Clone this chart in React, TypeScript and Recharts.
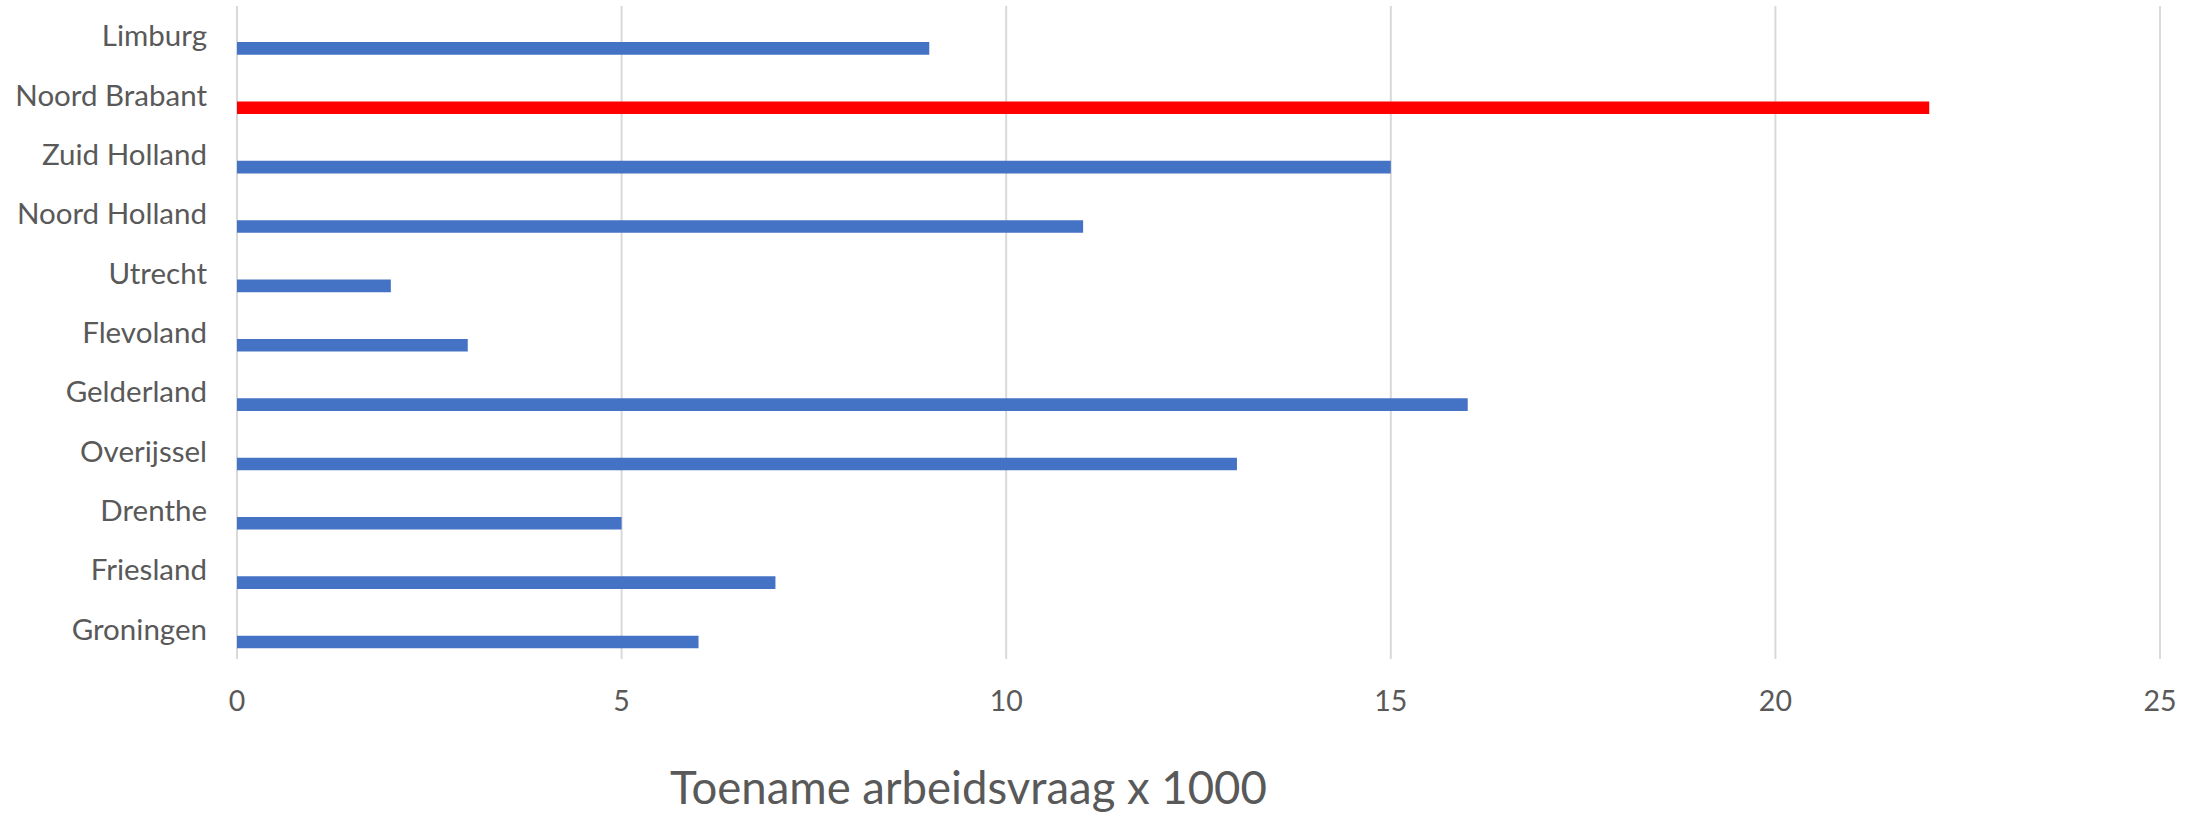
import React from 'react';
import { BarChart, Bar, XAxis, YAxis, CartesianGrid, Cell, Label } from 'recharts';

const PROVINCES = [
    'Limburg',
    'Noord Brabant',
    'Zuid Holland',
    'Noord Holland',
    'Utrecht',
    'Flevoland',
    'Gelderland',
    'Overijssel',
    'Drenthe',
    'Friesland',
    'Groningen',
];
const DEMAND = [9, 22, 15, 11, 2, 3, 16, 13, 5, 7, 6];
const X_TICKS = [0, 5, 10, 15, 20, 25];
const HIGHLIGHT = 'Noord Brabant';

const data = PROVINCES.map((name, i) => ({ name, spacer: null, value: DEMAND[i] }));

const FONT = 'Lato, "Open Sans", sans-serif';
const TEXT = '#595959';

const App: React.FC = () => {
    return (
        <div style={{ position: 'absolute', left: 0, top: 0, width: 2194, height: 817, background: '#fff' }}>
            <BarChart
                width={2194}
                height={817}
                data={data}
                layout="vertical"
                margin={{ top: 6, right: 34, left: 0, bottom: 0 }}
                barSize={12.6}
                barGap={12.5}
            >
                <CartesianGrid horizontal={false} stroke="#D9D9D9" strokeWidth={2} />
                <XAxis
                    type="number"
                    domain={[0, 25]}
                    ticks={X_TICKS}
                    axisLine={false}
                    tickLine={false}
                    tickSize={0}
                    tickMargin={32}
                    height={158}
                    tick={{ fill: TEXT, fontSize: 28.5, fontFamily: FONT }}
                >
                    <Label
                        value="Toename arbeidsvraag x 1000"
                        position="insideBottom"
                        offset={13}
                        dx={-230}
                        style={{ fill: TEXT, fontSize: 45.5, fontFamily: FONT }}
                    />
                </XAxis>
                <YAxis
                    type="category"
                    dataKey="name"
                    width={237}
                    axisLine={false}
                    tickLine={false}
                    tickSize={0}
                    tickMargin={30}
                    interval={0}
                    tick={{ fill: TEXT, fontSize: 29.5, fontFamily: FONT }}
                />
                <Bar dataKey="spacer" fill="none" isAnimationActive={false} />
                <Bar dataKey="value" isAnimationActive={false}>
                    {data.map((d) => (
                        <Cell key={d.name} fill={d.name === HIGHLIGHT ? '#FF0000' : '#4472C4'} />
                    ))}
                </Bar>
            </BarChart>
        </div>
    );
};

export default App;
